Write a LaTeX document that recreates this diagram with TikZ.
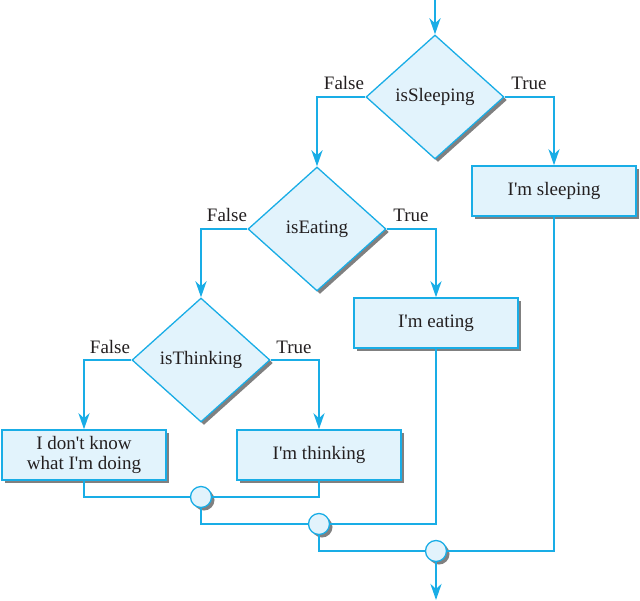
\documentclass[tikz,border=0pt]{standalone}
\usepackage{fontspec}
\setmainfont{Liberation Serif}[Ligatures=TeXOff]
\usetikzlibrary{shapes.geometric,arrows.meta,shadows}
\definecolor{lineblue}{RGB}{25,173,230}
\definecolor{fillblue}{RGB}{226,243,252}
\definecolor{txt}{RGB}{35,31,32}
\tikzset{
  shad/.style={drop shadow={shadow xshift=3pt,shadow yshift=-3pt,fill=black!50,opacity=1}},
  decision/.style={diamond,draw=lineblue,line width=1.3pt,fill=fillblue,shad,
    minimum width=138pt,minimum height=124pt,inner sep=0pt,font=\fontsize{19}{22}\selectfont,text=txt},
  action/.style={rectangle,draw=lineblue,line width=1.5pt,fill=fillblue,shad,
    minimum width=164pt,minimum height=50pt,inner sep=0pt,align=center,
    font=\fontsize{19}{22}\selectfont,text=txt},
  junction/.style={circle,draw=lineblue,line width=1.3pt,fill=fillblue,shad,
    minimum size=21pt,inner sep=0pt},
  lbl/.style={font=\fontsize{19}{22}\selectfont,text=txt,inner sep=0pt},
  flow/.style={draw=lineblue,line width=2.8pt},
  arr/.style={flow,-{Stealth[length=16pt,width=11pt,inset=5pt]}}
}
\begin{document}
\begin{tikzpicture}[x=1pt,y=-1pt]
\useasboundingbox (0,0) rectangle (640,600);
\node[decision] (sleep) at (435,97) {isSleeping};
\node[decision] (eat) at (317,229) {isEating};
\node[decision] (think) at (201,360) {isThinking};
\node[action] (bsleep) at (554,191) {I'm sleeping};
\node[action] (beat) at (436,323) {I'm eating};
\node[action] (bthink) at (319,455) {I'm thinking};
\node[action] (bnone) at (84,455) {I don't know\\[-2pt]what I'm doing};
\node[junction] (j1) at (201,497) {};
\node[junction] (j2) at (319,524) {};
\node[junction] (j3) at (436,551) {};
\node[lbl] (f1) at (344,83) {False};
\node[lbl] (t1) at (529,83) {True};
\node[lbl] (f2) at (227,215) {False};
\node[lbl] (t2) at (411,215) {True};
\node[lbl] (f3) at (110,347) {False};
\node[lbl] (t3) at (294,347) {True};
\coordinate (start) at (435,0);
\coordinate (stop) at (436,600);
\draw[arr] (start) -- (sleep.north);
\draw[arr] (sleep.west) -| (eat.north);
\draw[arr] (sleep.east) -| (bsleep.north);
\draw[arr] (eat.west) -| (think.north);
\draw[arr] (eat.east) -| (beat.north);
\draw[arr] (think.west) -| (bnone.north);
\draw[arr] (think.east) -| (bthink.north);
\draw[flow] (bnone.south) |- (j1.west);
\draw[flow] (bthink.south) |- (j1.east);
\draw[flow] (j1.south) |- (j2.west);
\draw[flow] (beat.south) |- (j2.east);
\draw[flow] (j2.south) |- (j3.west);
\draw[flow] (bsleep.south) |- (j3.east);
\draw[arr] (j3.south) -- (stop);
\end{tikzpicture}
\end{document}
